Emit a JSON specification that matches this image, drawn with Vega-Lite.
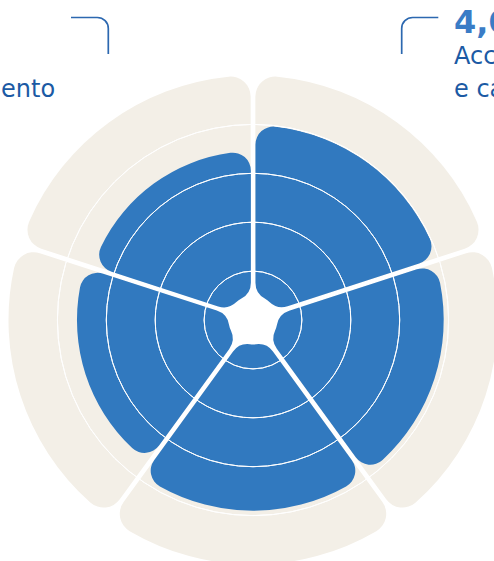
{
  "$schema": "https://vega.github.io/schema/vega-lite/v6.json",
  "width": 482,
  "height": 482,
  "autosize": "none",
  "padding": {"left": 12, "top": 79, "right": 0, "bottom": 0},
  "background": "#ffffff",
  "config": {"view": {"stroke": null}, "font": "DejaVu Sans"},
  "data": {
    "values": [
      {"seg": "A", "order": 1, "share": 1, "value": 3.98, "num": "4,0", "desc": "Accessibilità\ne capillarità"},
      {"seg": "B", "order": 2, "share": 1, "value": 3.9, "num": "", "desc": ""},
      {"seg": "C", "order": 3, "share": 1, "value": 3.9, "num": "", "desc": ""},
      {"seg": "D", "order": 4, "share": 1, "value": 3.6, "num": "", "desc": ""},
      {"seg": "E", "order": 5, "share": 1, "value": 3.45, "num": "3,4", "desc": "Ascolto\ne orientamento"}
    ]
  },
  "layer": [
    {
      "mark": {"type": "arc", "color": "#f3efe7", "cornerRadius": 20, "padAngle": 0.019},
      "encoding": {
        "theta": {"field": "share", "type": "quantitative", "stack": true, "scale": {"domain": [0, 5]}},
        "order": {"field": "order", "type": "quantitative"},
        "detail": {"field": "seg"},
        "radius": {"datum": 5, "type": "quantitative", "scale": {"type": "linear", "domain": [0, 5], "range": [0, 244.5], "zero": true}},
        "radius2": {"datum": 0.9}
      }
    },
    {
      "transform": [
        {"stack": "share", "groupby": [], "sort": [{"field": "order", "order": "ascending"}], "as": ["t0", "t1"]}
      ],
      "mark": {"type": "arc", "color": "#3179bf", "cornerRadius": 18, "padAngle": 0.025},
      "encoding": {
        "theta": {"field": "t0", "type": "quantitative", "scale": {"domain": [0, 5]}},
        "theta2": {"field": "t1"},
        "radius": {"field": "value", "type": "quantitative", "scale": {"type": "linear", "domain": [0, 5], "range": [0, 244.5], "zero": true}},
        "radius2": {"datum": 0.5}
      }
    },
    {
      "data": {"values": [{"r": 1}, {"r": 2}, {"r": 3}, {"r": 4}]},
      "mark": {"type": "arc", "theta": 0, "theta2": 6.2832, "fillOpacity": 0, "stroke": "#ffffff", "strokeWidth": 1},
      "encoding": {
        "radius": {"field": "r", "type": "quantitative", "scale": {"type": "linear", "domain": [0, 5], "range": [0, 244.5], "zero": true}},
        "radius2": {"field": "r"}
      }
    },
    {
      "mark": {"type": "text", "align": "left", "baseline": "alphabetic", "font": "DejaVu Sans", "fontSize": 32, "fontWeight": "bold", "color": "#3a7cc6", "dx": -91, "dy": 114.9},
      "encoding": {
        "theta": {"field": "share", "type": "quantitative", "stack": true, "scale": {"domain": [0, 5]}},
        "order": {"field": "order", "type": "quantitative"},
        "detail": {"field": "seg"},
        "radius": {"datum": 10.16, "type": "quantitative", "scale": {"type": "linear", "domain": [0, 5], "range": [0, 244.5], "zero": true}},
        "text": {"field": "num"}
      }
    },
    {
      "mark": {"type": "text", "align": "left", "baseline": "alphabetic", "font": "DejaVu Sans", "fontSize": 24, "fontWeight": "normal", "color": "#1b5aa4", "lineBreak": "\n", "lineHeight": 33, "dx": -91, "dy": 145.9},
      "encoding": {
        "theta": {"field": "share", "type": "quantitative", "stack": true, "scale": {"domain": [0, 5]}},
        "order": {"field": "order", "type": "quantitative"},
        "detail": {"field": "seg"},
        "radius": {"datum": 10.16, "type": "quantitative", "scale": {"type": "linear", "domain": [0, 5], "range": [0, 244.5], "zero": true}},
        "text": {"field": "desc"}
      }
    },
    {
      "data": {"values": [{"item": "brackets"}]},
      "mark": {"type": "point", "shape": "M-182,-302.5H-155.7A11,11 0 0 1 -144.7,-291.5V-266M148.7,-266V-291.5A11,11 0 0 1 159.7,-302.5H185.3", "size": 4, "filled": false, "stroke": "#2c68b0", "strokeWidth": 1.7, "opacity": 1},
      "encoding": {}
    }
  ]
}
